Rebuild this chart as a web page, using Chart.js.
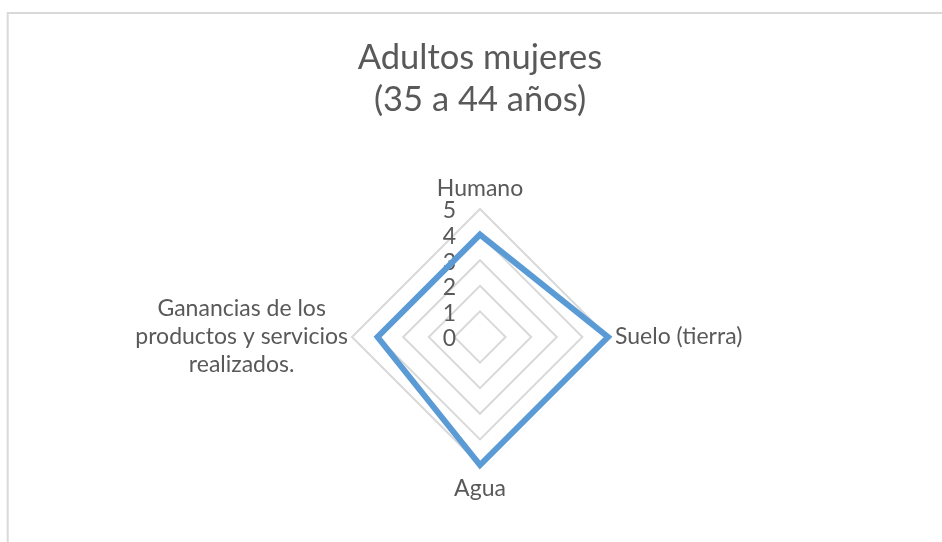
<!DOCTYPE html>
<html><head><meta charset="utf-8">
<script src="https://cdn.jsdelivr.net/npm/chart.js@4/dist/chart.umd.min.js"></script>
<style>html,body{margin:0;padding:0;background:#fff;} #wrap{position:relative;width:942px;height:542px;}</style>
</head><body><div id="wrap"><canvas id="c" width="942" height="542"></canvas></div>
<script>
const titleLines = ['Adultos mujeres', '(35 a 44 años)'];
const categories = ['Humano', 'Suelo (tierra)', 'Agua', 'Ganancias de los productos y servicios realizados.'];
const seriesName = 'Adultos mujeres (35 a 44 años)';
const values = [4, 5, 5, 4];
const tickValues = [0, 1, 2, 3, 4, 5];

const TEXT = '#595959', GRID = '#D9D9D9', LINE = '#5B9BD5';
const FONT = 'Lato';
const LABEL_SIZE = 23, LABEL_LH = 28;
const LABEL_PAD = [6, 7, 10, 4];

function wrap(label, max) {
  const words = String(label).split(' ');
  const lines = [];
  let cur = '';
  for (const w of words) {
    const t = cur ? cur + ' ' + w : w;
    if (t.length > max && cur) { lines.push(cur); cur = w; } else { cur = t; }
  }
  if (cur) lines.push(cur);
  return lines;
}

const frame = {
  id: 'frame',
  beforeDraw(chart) {
    const ctx = chart.ctx;
    ctx.save();
    ctx.strokeStyle = GRID; ctx.lineWidth = 2;
    ctx.beginPath(); ctx.moveTo(7.7, 600); ctx.lineTo(7.7, 13); ctx.lineTo(990, 13); ctx.stroke();
    ctx.restore();
  }
};

const tickLabels = {
  id: 'tickLabels',
  beforeDatasetsDraw(chart) {
    const s = chart.scales.r, ctx = chart.ctx;
    ctx.save();
    ctx.fillStyle = TEXT;
    ctx.font = LABEL_SIZE + 'px ' + FONT;
    ctx.textAlign = 'right'; ctx.textBaseline = 'middle';
    tickValues.forEach(v => {
      const p = s.getPointPositionForValue(0, v);
      ctx.fillText(String(v), p.x - 24, p.y + 2);
    });
    ctx.restore();
  }
};

const categoryLabels = {
  id: 'categoryLabels',
  afterDatasetsDraw(chart) {
    const s = chart.scales.r, ctx = chart.ctx;
    ctx.save();
    ctx.fillStyle = TEXT;
    ctx.font = LABEL_SIZE + 'px ' + FONT;
    ctx.textBaseline = 'middle';
    ctx.textAlign = 'center';
    chart.data.labels.forEach((lab, i) => {
      const lines = wrap(lab, 21);
      const p = s.getPointPosition(i, s.drawingArea + LABEL_PAD[i]);
      const deg = Math.round(((s.getIndexAngle(i) * 180 / Math.PI) % 360 + 360) % 360);
      const n = lines.length;
      const blockW = Math.max(...lines.map(l => ctx.measureText(l).width));
      let cx, y0;
      if (deg === 0) { cx = p.x; y0 = p.y - LABEL_LH / 2 - (n - 1) * LABEL_LH; }
      else if (deg === 180) { cx = p.x; y0 = p.y + LABEL_LH / 2; }
      else if (deg < 180) { cx = p.x + blockW / 2; y0 = p.y - (n - 1) * LABEL_LH / 2; }
      else { cx = p.x - blockW / 2; y0 = p.y - (n - 1) * LABEL_LH / 2; }
      lines.forEach((l, k) => ctx.fillText(l, cx, y0 + k * LABEL_LH));
    });
    ctx.restore();
  }
};

new Chart(document.getElementById('c').getContext('2d'), {
  type: 'radar',
  data: {
    labels: categories,
    datasets: [{
      label: seriesName, data: values,
      borderColor: LINE, borderWidth: 6, fill: false, backgroundColor: 'rgba(0,0,0,0)',
      pointRadius: 0, pointHoverRadius: 0, borderJoinStyle: 'miter', tension: 0
    }]
  },
  options: {
    responsive: false, animation: false, devicePixelRatio: 1,
    layout: { padding: { left: 18, right: 0, top: 0, bottom: 77 } },
    plugins: {
      legend: { display: false }, tooltip: { enabled: false },
      title: { display: true, text: titleLines, color: TEXT,
        font: { family: FONT, size: 34.5, weight: 'normal', lineHeight: '42px' },
        padding: { top: 37, bottom: 88 } }
    },
    scales: {
      r: {
        min: 0, max: 5, beginAtZero: true,
        ticks: { display: false, stepSize: 1 },
        angleLines: { display: false },
        grid: { color: GRID, lineWidth: 2 },
        pointLabels: { display: false }
      }
    }
  },
  plugins: [frame, tickLabels, categoryLabels]
});
</script></body></html>
